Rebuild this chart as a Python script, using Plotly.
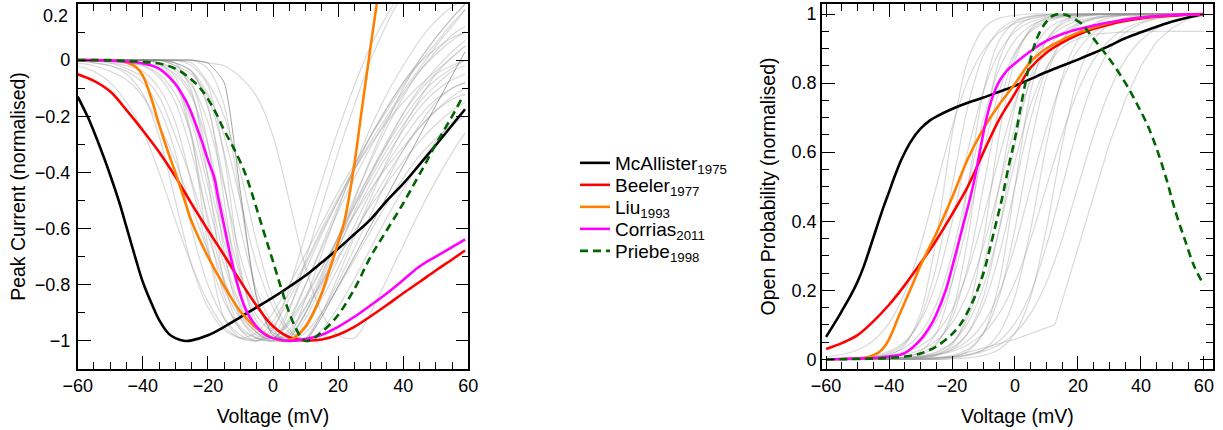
import plotly.graph_objects as go

FONT = "Liberation Sans, Arial, sans-serif"

# ---------------- Left panel: named curves (Voltage mV, normalised peak current) ----------------
mca_v_L = [-60, -57, -55, -52, -50, -47, -45, -42, -40, -37, -35, -32, -30, -27, -25, -20, -15, -10, -5, 0,
           5, 10, 15, 20, 25, 30, 35, 40, 45, 50, 55, 59]
mca_i_L = [-0.13, -0.2, -0.255, -0.345, -0.41, -0.515, -0.595, -0.715, -0.79, -0.875, -0.925, -0.975, -0.99,
           -1.0, -0.998, -0.98, -0.95, -0.915, -0.88, -0.845, -0.807, -0.767, -0.72, -0.672, -0.62, -0.567,
           -0.5, -0.44, -0.372, -0.303, -0.232, -0.175]

beeler_v_L = [-60, -55, -50, -45, -40, -35, -30, -25, -20, -15, -10, -5, 0, 5, 10, 15, 20, 25, 30, 35, 40, 45,
              50, 55, 59]
beeler_i_L = [-0.05, -0.074, -0.112, -0.178, -0.25, -0.327, -0.415, -0.512, -0.605, -0.695, -0.788, -0.875,
              -0.948, -0.987, -0.998, -0.995, -0.978, -0.95, -0.912, -0.872, -0.83, -0.79, -0.749, -0.71, -0.678]

liu_v_L = [-60, -55, -50, -47, -45, -42, -40, -37, -35, -32, -30, -27, -25, -20, -15, -10, -5, 0, 3, 5, 7, 10,
           12, 15, 17, 20, 22, 25, 27, 30, 32, 35]
liu_i_L = [0, 0, -0.001, -0.003, -0.008, -0.025, -0.055, -0.15, -0.23, -0.335, -0.4, -0.505, -0.575, -0.70,
           -0.805, -0.895, -0.955, -0.99, -1.0, -0.997, -0.985, -0.95, -0.91, -0.83, -0.76, -0.65, -0.57,
           -0.37, -0.2, 0.05, 0.21, 0.45]

cor_v_L = [-60, -55, -50, -45, -40, -35, -30, -27, -25, -22, -20, -18, -17, -15, -13, -11, -9, -7, -5, -2.5,
           0, 5, 10, 15, 20, 25, 30, 35, 40, 45, 50, 55, 59]
cor_i_L = [0, 0, -0.002, -0.005, -0.012, -0.03, -0.085, -0.14, -0.19, -0.285, -0.355, -0.42, -0.48, -0.59,
           -0.70, -0.795, -0.87, -0.918, -0.95, -0.977, -0.99, -1.0, -0.993, -0.978, -0.95, -0.914, -0.873,
           -0.83, -0.783, -0.735, -0.70, -0.666, -0.638]

pri_v_L = [-60, -55, -50, -45, -40, -35, -30, -26, -22, -18, -15, -12, -9, -7, -5, -3, -1, 1, 3, 5, 7, 8.5,
           10, 12, 14, 17, 20, 25, 30, 35, 40, 44, 47, 50, 53, 55, 58.5]
pri_i_L = [0, 0, 0, -0.003, -0.006, -0.012, -0.03, -0.06, -0.105, -0.178, -0.25, -0.315, -0.39, -0.455,
           -0.53, -0.605, -0.68, -0.755, -0.83, -0.9, -0.955, -0.985, -1.0, -0.995, -0.978, -0.947, -0.908,
           -0.815, -0.70, -0.605, -0.51, -0.427, -0.365, -0.3, -0.24, -0.2, -0.125]

# ---------------- Right panel: named curves (Voltage mV, normalised open probability) ----------------
mca_v_R = [-60, -57, -55, -52, -50, -48, -45, -42, -40, -38, -36, -33, -30, -27, -25, -20, -15, -10, -5, 0,
           5, 10, 15, 20, 25, 30, 35, 40, 45, 50, 55, 60]
mca_p_R = [0.065, 0.109, 0.14, 0.188, 0.225, 0.27, 0.352, 0.435, 0.485, 0.535, 0.58, 0.632, 0.668, 0.692,
           0.703, 0.725, 0.743, 0.758, 0.775, 0.792, 0.812, 0.832, 0.85, 0.868, 0.887, 0.908, 0.93, 0.947,
           0.963, 0.978, 0.99, 1.0]

beeler_v_R = [-60, -55, -50, -45, -40, -35, -30, -25, -20, -15, -10, -5, 0, 2.5, 5, 10, 15, 20, 25, 30, 35,
              40, 45, 50, 55, 60]
beeler_p_R = [0.03, 0.047, 0.07, 0.11, 0.158, 0.215, 0.278, 0.345, 0.42, 0.5, 0.6, 0.695, 0.77, 0.81, 0.845,
              0.888, 0.917, 0.94, 0.957, 0.97, 0.98, 0.987, 0.992, 0.995, 0.998, 1.0]

liu_v_R = [-60, -55, -50, -47, -45, -43, -41, -39, -37, -35, -32, -30, -25, -20, -15, -10, -5, 0, 5, 10, 15,
           20, 25, 30, 35, 40, 45, 50, 55, 60]
liu_p_R = [0.0, 0.001, 0.003, 0.006, 0.012, 0.022, 0.042, 0.078, 0.123, 0.165, 0.228, 0.272, 0.365, 0.468,
           0.58, 0.668, 0.738, 0.798, 0.862, 0.9, 0.925, 0.946, 0.962, 0.975, 0.984, 0.99, 0.994, 0.997,
           0.999, 1.0]

cor_v_R = [-60, -55, -50, -45, -40, -35, -30, -27, -25, -22, -20, -17, -15, -13, -11, -9, -7, -5, -2.5, 0, 5,
           10, 15, 20, 25, 30, 35, 40, 45, 50, 55, 60]
cor_p_R = [0.0, 0.001, 0.002, 0.004, 0.008, 0.018, 0.057, 0.095, 0.13, 0.2, 0.265, 0.37, 0.44, 0.515, 0.61,
           0.7, 0.763, 0.805, 0.837, 0.857, 0.893, 0.922, 0.942, 0.956, 0.967, 0.976, 0.983, 0.99, 0.994,
           0.997, 0.999, 1.0]

pri_v_R = [-60, -50, -45, -40, -35, -30, -25, -20, -17, -15, -13, -10, -8, -6, -4, -2, 0, 2, 4, 6, 8, 10, 12,
           14, 16, 18, 21, 24, 27, 30, 33, 36, 39, 42, 45, 48, 51, 54, 57, 60]
pri_p_R = [0, 0.001, 0.002, 0.004, 0.008, 0.017, 0.037, 0.073, 0.106, 0.138, 0.176, 0.25, 0.32, 0.395, 0.47,
           0.56, 0.64, 0.74, 0.83, 0.905, 0.95, 0.978, 0.995, 1.0, 0.998, 0.99, 0.973, 0.94, 0.905, 0.87,
           0.83, 0.786, 0.735, 0.68, 0.61, 0.525, 0.427, 0.345, 0.268, 0.215]

# ---------------- Background (grey) model curves ----------------
VL = [-60, -55, -50, -45, -40, -35, -30, -25, -20, -15, -10, -5, 0, 5, 10, 15, 20, 25, 30, 35, 40, 45, 50, 55, 59]
gl01 = [-0.02, -0.04, -0.08, -0.15, -0.25, -0.4, -0.57, -0.73, -0.86, -0.95, -0.99, -0.99, -0.93, -0.83, -0.72, -0.6, -0.49, -0.39, -0.3, -0.22, -0.15, -0.09, -0.04, 0.01, 0.05]
gl02 = [0, -0.01, -0.02, -0.04, -0.08, -0.17, -0.33, -0.6, -0.8, -0.92, -0.98, -1.0, -0.95, -0.85, -0.73, -0.61, -0.5, -0.39, -0.29, -0.2, -0.11, -0.03, 0.05, 0.12, 0.18]
gl03 = [0, 0, -0.01, -0.02, -0.04, -0.1, -0.22, -0.44, -0.68, -0.86, -0.95, -0.99, -0.99, -0.93, -0.84, -0.74, -0.64, -0.55, -0.46, -0.38, -0.31, -0.24, -0.18, -0.13, -0.1]
gl04 = [0, 0, 0, 0, 0, -0.01, -0.06, -0.27, -0.66, -0.92, -0.99, -1.0, -0.98, -0.88, -0.75, -0.62, -0.5, -0.38, -0.27, -0.17, -0.08, 0.0, 0.08, 0.15, 0.2]
gl05 = [0, 0, 0, -0.01, -0.02, -0.05, -0.12, -0.27, -0.5, -0.73, -0.88, -0.96, -0.99, -0.98, -0.9, -0.79, -0.67, -0.55, -0.44, -0.34, -0.25, -0.17, -0.11, -0.07, -0.05]
gl06 = [0, 0, 0, 0, -0.01, -0.03, -0.08, -0.2, -0.41, -0.65, -0.84, -0.95, -0.99, -0.93, -0.8, -0.66, -0.52, -0.39, -0.27, -0.17, -0.08, -0.01, 0.04, 0.08, 0.1]
gl07 = [0, 0, 0, 0, 0, 0, -0.02, -0.08, -0.3, -0.68, -0.92, -0.99, -1.0, -0.99, -0.9, -0.78, -0.65, -0.52, -0.4, -0.29, -0.19, -0.11, -0.05, -0.02, 0.0]
gl08 = [0, 0, 0, 0, -0.01, -0.02, -0.05, -0.13, -0.3, -0.55, -0.77, -0.91, -0.97, -1.0, -0.97, -0.9, -0.81, -0.71, -0.61, -0.51, -0.42, -0.34, -0.28, -0.23, -0.2]
gl09 = [0, 0, 0, 0, 0, 0, -0.01, -0.04, -0.16, -0.5, -0.84, -0.97, -1.0, -0.89, -0.71, -0.52, -0.33, -0.16, 0.0, 0.13, 0.24, 0.33, 0.4, 0.45, 0.48]
gl10 = [0, 0, 0, 0, 0, -0.01, -0.03, -0.09, -0.22, -0.45, -0.7, -0.87, -0.96, -1.0, -0.95, -0.85, -0.74, -0.62, -0.51, -0.41, -0.32, -0.24, -0.18, -0.14, -0.12]
gl11 = [0, 0, 0, 0, 0, 0, 0, -0.02, -0.09, -0.34, -0.74, -0.95, -0.99, -1.0, -0.92, -0.8, -0.67, -0.54, -0.41, -0.3, -0.19, -0.1, -0.03, 0.03, 0.07]
gl12 = [0, 0, 0, 0, 0, 0, 0, 0, -0.01, -0.08, -0.47, -0.85, -0.98, -1.0, -1.0, -0.914, -0.806, -0.699, -0.59, -0.484, -0.377, -0.27, -0.162, -0.055, 0.03]
gl13 = [0, 0, 0, 0, 0, 0, 0, 0, -0.03, -0.16, -0.5, -0.84, -0.97, -1.0, -0.99, -0.9, -0.79, -0.67, -0.55, -0.43, -0.32, -0.23, -0.15, -0.1, -0.08]
gl14 = [0, 0, 0, 0, 0, 0, 0, -0.01, -0.08, -0.2, -0.4, -0.65, -0.85, -0.96, -1.0, -0.96, -0.88, -0.78, -0.67, -0.56, -0.46, -0.37, -0.29, -0.22, -0.18]
gl15 = [0, 0, 0, 0, 0, 0, 0, 0, -0.01, -0.02, -0.06, -0.13, -0.27, -0.5, -0.74, -0.9, -0.98, -0.99, -0.9, -0.78, -0.66, -0.54, -0.43, -0.33, -0.26]
gl16 = [0, -0.01, -0.02, -0.05, -0.12, -0.27, -0.5, -0.73, -0.88, -0.96, -0.99, -0.97, -0.9, -0.8, -0.69, -0.58, -0.47, -0.37, -0.27, -0.18, -0.09, -0.01, 0.06, 0.13, 0.18]
gl17 = [0, 0, 0, 0, 0, 0, -0.01, -0.11, -0.42, -0.79, -0.96, -1.0, -0.96, -0.81, -0.62, -0.43, -0.25, -0.09, 0.05, 0.16, 0.25, 0.32, 0.38, 0.42, 0.45]
gl18 = [0, 0, 0, -0.01, -0.02, -0.06, -0.15, -0.33, -0.56, -0.78, -0.91, -0.97, -1.0, -0.99, -0.9, -0.77, -0.63, -0.49, -0.36, -0.24, -0.13, -0.04, 0.03, 0.09, 0.12]
gl19 = [0, 0, 0, 0, 0, 0, -0.02, -0.05, -0.13, -0.33, -0.6, -0.82, -0.94, -0.99, -0.95, -0.82, -0.66, -0.5, -0.35, -0.22, -0.1, 0.0, 0.08, 0.15, 0.2]
gl20 = [-0.01, -0.02, -0.04, -0.07, -0.13, -0.23, -0.36, -0.52, -0.68, -0.82, -0.92, -0.98, -0.99, -0.94, -0.85, -0.74, -0.63, -0.52, -0.42, -0.32, -0.23, -0.15, -0.09, -0.04, -0.02]
gl21 = [0, 0, 0, 0, 0, -0.01, -0.04, -0.12, -0.35, -0.62, -0.84, -0.95, -0.99, -0.97, -0.88, -0.76, -0.63, -0.51, -0.4, -0.3, -0.21, -0.13, -0.07, -0.03, 0.0]
gl22 = [0, 0, 0, 0, 0, -0.01, -0.08, -0.28, -0.58, -0.84, -0.96, -0.99, -1.0, -0.96, -0.88, -0.79, -0.7, -0.61, -0.52, -0.44, -0.36, -0.29, -0.23, -0.18, -0.15]
gl23 = [0, 0, 0, 0, 0, 0, -0.01, -0.04, -0.17, -0.44, -0.76, -0.93, -0.99, -0.98, -0.85, -0.69, -0.53, -0.38, -0.24, -0.12, -0.02, 0.07, 0.14, 0.19, 0.22]
gl24 = [0, 0, 0, 0, 0, 0, -0.01, -0.04, -0.12, -0.27, -0.5, -0.73, -0.88, -0.97, -0.99, -0.9, -0.77, -0.63, -0.49, -0.36, -0.24, -0.14, -0.05, 0.01, 0.05]
gl25 = [0, 0, 0, 0, -0.01, -0.03, -0.09, -0.22, -0.45, -0.7, -0.87, -0.95, -0.99, -1.0, -0.94, -0.83, -0.71, -0.59, -0.47, -0.37, -0.28, -0.2, -0.14, -0.1, -0.08]
gl26 = [0, 0, -0.01, -0.03, -0.06, -0.13, -0.27, -0.43, -0.62, -0.79, -0.9, -0.97, -0.99, -0.92, -0.8, -0.67, -0.54, -0.42, -0.31, -0.21, -0.12, -0.04, 0.02, 0.07, 0.1]

VR = [-60, -55, -50, -45, -40, -35, -30, -25, -20, -15, -10, -5, 0, 5, 10, 15, 20, 25, 30, 35, 40, 45, 50, 55, 60]
gr01 = [0.007, 0.014, 0.027, 0.054, 0.105, 0.193, 0.329, 0.5, 0.671, 0.807, 0.895, 0.946, 0.973, 0.986, 0.993, 0.996, 0.998, 0.999, 1, 1, 1, 1, 1, 1, 1]
gr02 = [0, 0.001, 0.003, 0.007, 0.018, 0.047, 0.119, 0.269, 0.5, 0.731, 0.881, 0.953, 0.982, 0.993, 0.998, 1, 1, 1, 1, 1, 1, 1, 1, 1, 1]
gr03 = [0.001, 0.002, 0.004, 0.01, 0.023, 0.051, 0.111, 0.223, 0.397, 0.603, 0.777, 0.889, 0.949, 0.977, 0.99, 0.996, 0.998, 1, 1, 1, 1, 1, 1, 1, 1]
gr04 = [0, 0, 0, 0, 0.002, 0.007, 0.023, 0.076, 0.223, 0.5, 0.777, 0.924, 0.977, 0.993, 0.998, 1, 1, 1, 1, 1, 1, 1, 1, 1, 1]
gr05 = [0, 0, 0.002, 0.004, 0.01, 0.023, 0.051, 0.111, 0.223, 0.397, 0.603, 0.777, 0.889, 0.949, 0.977, 0.99, 0.996, 0.998, 1, 1, 1, 1, 1, 1, 1]
gr06 = [0, 0, 0, 0.001, 0.0025, 0.007, 0.018, 0.047, 0.119, 0.269, 0.5, 0.731, 0.881, 0.953, 0.982, 0.993, 0.998, 1, 1, 1, 1, 1, 1, 1, 1]
gr07 = [0, 0, 0, 0, 0, 0.001, 0.004, 0.012, 0.042, 0.133, 0.349, 0.651, 0.867, 0.958, 0.988, 0.996, 1, 1, 1, 1, 1, 1, 1, 1, 1]
gr08 = [0, 0.001, 0.002, 0.003, 0.007, 0.014, 0.027, 0.054, 0.105, 0.193, 0.329, 0.5, 0.671, 0.807, 0.895, 0.946, 0.973, 0.986, 0.993, 0.997, 0.998, 1, 1, 1, 1]
gr09 = [0, 0, 0, 0, 0.0006, 0.0015, 0.004, 0.011, 0.029, 0.076, 0.182, 0.378, 0.622, 0.818, 0.924, 0.971, 0.989, 0.996, 0.998, 1, 1, 1, 1, 1, 1]
gr10 = [0, 0, 0, 0, 0.001, 0.003, 0.007, 0.015, 0.034, 0.076, 0.159, 0.303, 0.5, 0.697, 0.841, 0.924, 0.966, 0.985, 0.993, 0.997, 0.999, 1, 1, 1, 1]
gr11 = [0, 0, 0, 0, 0, 0, 0.0015, 0.004, 0.011, 0.029, 0.076, 0.182, 0.378, 0.622, 0.818, 0.924, 0.971, 0.989, 0.996, 0.998, 1, 1, 1, 1, 1]
gr12 = [0, 0, 0, 0, 0.001, 0.003, 0.007, 0.014, 0.027, 0.054, 0.105, 0.193, 0.329, 0.5, 0.671, 0.807, 0.895, 0.946, 0.973, 0.986, 0.993, 0.997, 0.998, 1, 1]
gr13 = [0, 0, 0, 0, 0, 0, 0, 0, 0.004, 0.011, 0.029, 0.076, 0.182, 0.378, 0.622, 0.818, 0.924, 0.971, 0.989, 0.996, 0.998, 1, 1, 1, 1]
gr14 = [0, 0, 0, 0, 0.002, 0.004, 0.007, 0.012, 0.023, 0.042, 0.076, 0.133, 0.223, 0.349, 0.5, 0.651, 0.777, 0.867, 0.924, 0.958, 0.977, 0.988, 0.993, 0.996, 0.998]
gr15 = [0, 0, 0, 0, 0, 0, 0.001, 0.003, 0.007, 0.014, 0.027, 0.054, 0.105, 0.193, 0.329, 0.5, 0.671, 0.807, 0.895, 0.946, 0.973, 0.986, 0.993, 0.997, 0.998]
gr16 = [0, 0, 0, 0, 0, 0.001, 0.002, 0.004, 0.007, 0.012, 0.023, 0.042, 0.076, 0.133, 0.223, 0.349, 0.5, 0.651, 0.777, 0.867, 0.924, 0.958, 0.977, 0.988, 0.993]
gr17 = [0, 0, 0, 0, 0.003, 0.005, 0.0095, 0.022, 0.048, 0.105, 0.212, 0.377, 0.573, 0.738, 0.845, 0.902, 0.928, 0.94, 0.945, 0.948, 0.949, 0.95, 0.95, 0.95, 0.95]
gr18 = [0, 0, 0.001, 0.004, 0.012, 0.042, 0.133, 0.349, 0.651, 0.867, 0.958, 0.988, 0.996, 1, 1, 1, 1, 1, 1, 1, 1, 1, 1, 1, 1]
gr19 = [0.0006, 0.001, 0.002, 0.005, 0.01, 0.019, 0.039, 0.076, 0.143, 0.255, 0.412, 0.588, 0.745, 0.857, 0.924, 0.961, 0.981, 0.99, 0.995, 0.998, 1, 1, 1, 1, 1]
gr20 = [0, 0, 0, 0, 0, 0, 0, 0, 0.0015, 0.004, 0.011, 0.029, 0.076, 0.182, 0.378, 0.622, 0.818, 0.924, 0.971, 0.989, 0.996, 0.998, 1, 1, 1]
gr21 = [0, 0, 0, 0, 0.001, 0.004, 0.012, 0.042, 0.133, 0.349, 0.651, 0.867, 0.958, 0.988, 0.996, 1, 1, 1, 1, 1, 1, 1, 1, 1, 1]
gr22 = [0, 0, 0, 0, 0.001, 0.0025, 0.007, 0.018, 0.047, 0.119, 0.269, 0.5, 0.731, 0.881, 0.953, 0.982, 0.993, 0.998, 1, 1, 1, 1, 1, 1, 1]
gr23 = [0, 0, 0, 0, 0, 0, 0, 0.002, 0.007, 0.023, 0.076, 0.223, 0.5, 0.777, 0.924, 0.977, 0.993, 0.998, 1, 1, 1, 1, 1, 1, 1]
gr24 = [0.0006, 0.0013, 0.003, 0.007, 0.015, 0.034, 0.076, 0.159, 0.303, 0.5, 0.697, 0.841, 0.924, 0.966, 0.985, 0.993, 0.997, 0.999, 1, 1, 1, 1, 1, 1, 1]
# one background model with a kinked activation curve
gr_kink_v = [-60, -40, -20, 0, 12.7, 20, 26.4, 30, 35, 40, 45, 50, 55, 60]
gr_kink_p = [0, 0, 0.008, 0.058, 0.1, 0.32, 0.52, 0.625, 0.75, 0.85, 0.92, 0.96, 0.985, 1.0]

GREY_LEFT = [gl01, gl02, gl03, gl04, gl05, gl06, gl07, gl08, gl09, gl10, gl11, gl13, gl14, gl15, gl16,
             gl17, gl18, gl19, gl20, gl21, gl22, gl23, gl24, gl25, gl26]
GREY_LEFT_DARK = gl12
GREY_RIGHT = [gr01, gr02, gr03, gr04, gr05, gr06, gr07, gr08, gr09, gr10, gr11, gr12, gr13, gr14, gr15,
              gr16, gr17, gr18, gr19, gr20, gr21, gr22, gr23, gr24]
for arr in GREY_LEFT + [GREY_LEFT_DARK]:
    assert len(arr) == len(VL)
for arr in GREY_RIGHT:
    assert len(arr) == len(VR)

NAMES = ["McAllister<sub>1975</sub>", "Beeler<sub>1977</sub>", "Liu<sub>1993</sub>",
         "Corrias<sub>2011</sub>", "Priebe<sub>1998</sub>"]
COLORS = ["#000000", "#ff0000", "#ff8000", "#ff00ff", "#006400"]
DASHES = ["solid", "solid", "solid", "solid", "8px,5px"]
LEFT = [(mca_v_L, mca_i_L), (beeler_v_L, beeler_i_L), (liu_v_L, liu_i_L), (cor_v_L, cor_i_L),
        (pri_v_L, pri_i_L)]
RIGHT = [(mca_v_R, mca_p_R), (beeler_v_R, beeler_p_R), (liu_v_R, liu_p_R), (cor_v_R, cor_p_R),
         (pri_v_R, pri_p_R)]
for v, y in LEFT + RIGHT:
    assert len(v) == len(y)

GREY = "rgba(150,150,150,0.36)"
GREY_DARK = "rgba(105,105,105,0.6)"

fig = go.Figure()

for g in GREY_LEFT:
    fig.add_trace(go.Scatter(x=VL, y=g, mode="lines", xaxis="x", yaxis="y", showlegend=False,
                             hoverinfo="skip", line=dict(color=GREY, width=1.2, shape="spline", smoothing=0.8)))
fig.add_trace(go.Scatter(x=VL, y=GREY_LEFT_DARK, mode="lines", xaxis="x", yaxis="y", showlegend=False,
                         hoverinfo="skip", line=dict(color=GREY_DARK, width=1.0, shape="spline", smoothing=0.5)))
for g in GREY_RIGHT:
    fig.add_trace(go.Scatter(x=VR, y=g, mode="lines", xaxis="x2", yaxis="y2", showlegend=False,
                             hoverinfo="skip", line=dict(color=GREY, width=1.2, shape="spline", smoothing=0.8)))
fig.add_trace(go.Scatter(x=gr_kink_v, y=gr_kink_p, mode="lines", xaxis="x2", yaxis="y2", showlegend=False,
                         hoverinfo="skip", line=dict(color=GREY, width=1.2)))

LEGEND_IDS = ["legend", "legend2", "legend3", "legend4", "legend5"]
for i, name in enumerate(NAMES):
    vL, yL = LEFT[i]
    vR, yR = RIGHT[i]
    fig.add_trace(go.Scatter(x=vL, y=yL, mode="lines", name=name, legendgroup=name, legend=LEGEND_IDS[i],
                             xaxis="x", yaxis="y",
                             line=dict(color=COLORS[i], width=2.6, dash=DASHES[i], shape="spline", smoothing=1.0)))
    fig.add_trace(go.Scatter(x=vR, y=yR, mode="lines", name=name, legendgroup=name, showlegend=False,
                             xaxis="x2", yaxis="y2",
                             line=dict(color=COLORS[i], width=2.6, dash=DASHES[i], shape="spline", smoothing=1.0)))

TICKFONT = dict(family=FONT, size=18, color="black")
TITLEFONT = dict(family=FONT, size=19.5, color="black")


def axis(**kw):
    base = dict(showline=True, linecolor="black", linewidth=1.6, mirror="ticks", ticks="inside",
                ticklen=13, tickwidth=1.4, tickcolor="black", showgrid=False, zeroline=False,
                tickfont=TICKFONT, automargin=False, fixedrange=True)
    base.update(kw)
    return base


MINOR = dict(ticks="inside", ticklen=7, tickwidth=1.4, tickcolor="black", showgrid=False)
Y_DOM = [61 / 430, 426 / 430]
LEGEND_TOPS = [144, 166, 188, 210, 232]
legends = {}
for lid, top in zip(LEGEND_IDS, LEGEND_TOPS):
    legends[lid] = dict(x=575 / 1223, y=1 - top / 430, xanchor="left", yanchor="top", tracegroupgap=0,
                        font=dict(family=FONT, size=19, color="black"), bgcolor="rgba(0,0,0,0)",
                        borderwidth=0)

fig.update_layout(
    width=1223, height=430,
    margin=dict(l=0, r=0, t=0, b=0),
    paper_bgcolor="white", plot_bgcolor="white",
    font=dict(family=FONT, color="black"),
    xaxis=axis(domain=[77.7 / 1223, 468.3 / 1223], anchor="y", range=[-60, 60], tick0=0, dtick=20,
               minor=dict(dtick=5, **MINOR),
               title=dict(text="Voltage (mV)", font=TITLEFONT, standoff=14)),
    yaxis=axis(domain=Y_DOM, anchor="x", range=[-1.1, 0.2],
               tickvals=[-1, -0.8, -0.6, -0.4, -0.2, 0],
               ticktext=["\u22121", "\u22120.8", "\u22120.6", "\u22120.4", "\u22120.2", "0"],
               ticklabelstandoff=2,
               minor=dict(dtick=0.1, tick0=0, **MINOR),
               title=dict(text="Peak Current (normalised)", font=TITLEFONT, standoff=4)),
    xaxis2=axis(domain=[822 / 1223, 1212.7 / 1223], anchor="y2", range=[-61.3, 62.8], tick0=0, dtick=20,
                minor=dict(dtick=5, **MINOR),
                title=dict(text="Voltage (mV)", font=TITLEFONT, standoff=14)),
    yaxis2=axis(domain=Y_DOM, anchor="x2", range=[-0.028, 1.029], tick0=0, dtick=0.2,
                minor=dict(dtick=0.05, tick0=0, **MINOR),
                title=dict(text="Open Probability (normalised)", font=TITLEFONT, standoff=11)),
    annotations=[dict(text="0.2", xref="paper", yref="y", x=70 / 1223, y=0.2, xanchor="right",
                      yanchor="middle", yshift=-12, showarrow=False, font=TICKFONT)],
    **legends,
)

fig.write_html("out.html", config={"displayModeBar": False},
               post_script="document.body.style.margin='0';document.body.style.overflow='hidden';")
